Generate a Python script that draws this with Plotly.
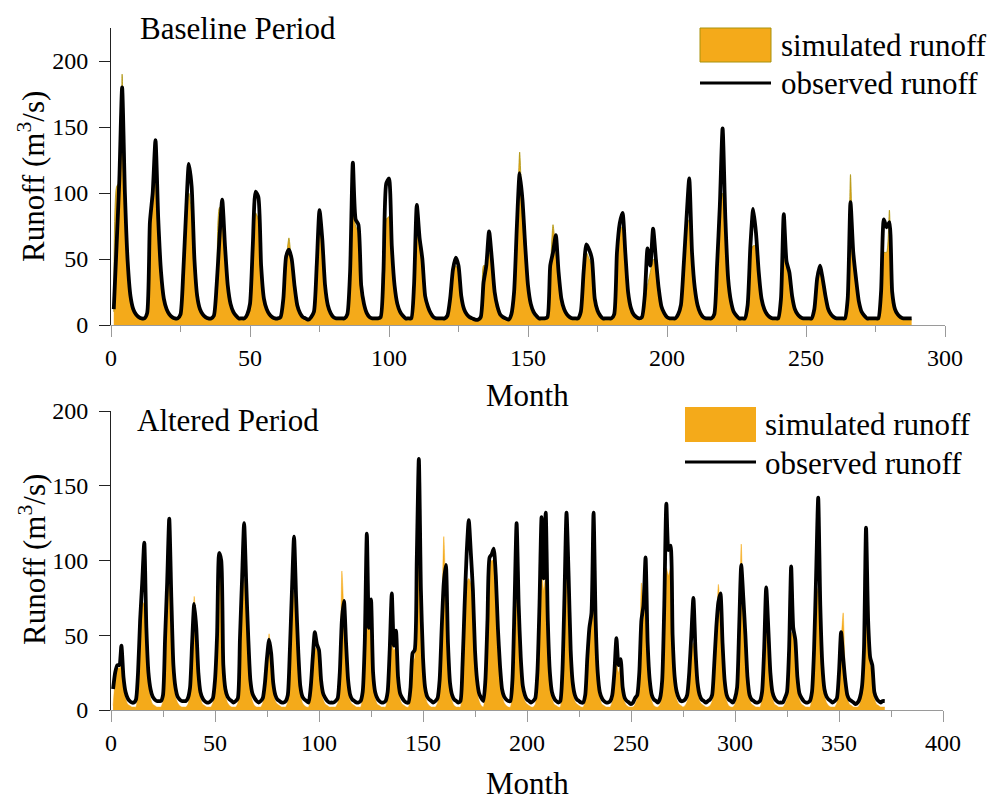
import plotly.graph_objects as go

# ---------------- data ----------------
# Baseline period, months 1..288 (one row per year)
obs_base = [
    12, 60, 110, 180, 100, 48, 22, 12, 8, 6, 5, 5,
    9, 78, 100, 140, 80, 40, 20, 12, 8, 6, 5, 5,
    8, 40, 85, 122, 105, 50, 22, 12, 8, 6, 5, 5,
    7, 30, 65, 95, 60, 30, 16, 10, 7, 5, 5, 5,
    8, 16, 60, 101, 97, 45, 20, 12, 8, 6, 5, 5,
    6, 20, 52, 57, 50, 30, 15, 9, 6, 5, 4, 6,
    10, 45, 87, 65, 30, 15, 9, 6, 5, 5, 5, 5,
    8, 40, 123, 80, 76, 30, 16, 9, 6, 5, 5, 5,
    6, 40, 107, 111, 60, 30, 16, 10, 7, 5, 5, 5,
    30, 91, 66, 50, 22, 14, 9, 6, 5, 5, 5, 5,
    7, 20, 42, 51, 45, 22, 12, 8, 6, 5, 4, 4,
    6, 32, 45, 71, 50, 25, 14, 8, 6, 5, 4, 8,
    25, 75, 115, 95, 60, 30, 16, 10, 7, 5, 5, 5,
    6, 45, 55, 68, 40, 20, 12, 8, 6, 5, 5, 5,
    10, 40, 61, 57, 50, 20, 11, 7, 5, 5, 5, 5,
    8, 55, 77, 85, 55, 25, 13, 8, 6, 5, 6, 22,
    58, 45, 73, 50, 28, 14, 9, 6, 5, 5, 5, 8,
    15, 45, 80, 111, 55, 28, 15, 9, 6, 5, 5, 5,
    8, 45, 90, 149, 80, 35, 18, 10, 7, 5, 5, 5,
    15, 60, 88, 70, 40, 20, 12, 8, 6, 5, 5, 5,
    20, 84, 48, 40, 22, 12, 8, 6, 5, 5, 5, 5,
    12, 35, 45, 35, 22, 12, 8, 6, 5, 5, 5, 5,
    20, 93, 55, 35, 18, 10, 7, 5, 5, 5, 5, 5,
    25, 80, 74, 78, 25, 12, 8, 6, 5, 5, 5, 5,
]
sim_base = [
    10, 105, 108, 190, 90, 42, 20, 11, 7, 5, 4, 4,
    8, 75, 105, 108, 75, 38, 18, 10, 7, 5, 4, 4,
    7, 38, 90, 100, 85, 45, 20, 11, 7, 5, 4, 4,
    6, 28, 89, 90, 55, 28, 15, 9, 6, 5, 4, 4,
    7, 15, 55, 85, 80, 40, 18, 10, 7, 5, 4, 4,
    5, 18, 48, 66, 46, 28, 14, 8, 5, 4, 4, 5,
    8, 42, 80, 58, 28, 14, 8, 5, 4, 4, 4, 4,
    7, 38, 88, 75, 70, 28, 14, 8, 5, 4, 4, 4,
    5, 35, 80, 82, 55, 28, 14, 9, 6, 4, 4, 4,
    25, 70, 60, 45, 20, 13, 8, 5, 4, 4, 4, 4,
    6, 18, 40, 45, 40, 20, 11, 7, 5, 4, 4, 4,
    5, 45, 45, 55, 45, 22, 12, 7, 5, 4, 4, 7,
    22, 70, 131, 80, 50, 26, 12, 7, 5, 4, 4, 4,
    5, 40, 76, 55, 35, 18, 10, 7, 5, 4, 4, 4,
    8, 35, 55, 50, 45, 18, 10, 6, 4, 4, 4, 4,
    7, 50, 70, 75, 50, 22, 12, 7, 5, 4, 5, 18,
    30, 40, 50, 45, 25, 12, 8, 5, 4, 4, 4, 8,
    12, 40, 75, 80, 50, 25, 13, 8, 5, 4, 4, 4,
    7, 40, 85, 100, 70, 30, 16, 9, 6, 4, 4, 4,
    12, 55, 60, 60, 35, 18, 10, 7, 5, 4, 4, 4,
    16, 55, 45, 35, 18, 10, 7, 5, 4, 4, 4, 4,
    10, 32, 40, 32, 20, 10, 7, 5, 4, 4, 4, 4,
    18, 114, 50, 32, 16, 9, 6, 5, 4, 4, 4, 4,
    22, 55, 55, 87, 22, 10, 7, 5, 4, 4, 4, 4,
]

# Altered period, months 1..372 (one row per year)
obs_alt = [
    14, 25, 30, 30, 43, 22, 12, 8, 6, 5, 5, 7,
    25, 60, 85, 112, 55, 25, 14, 9, 7, 6, 6, 6,
    10, 48, 85, 128, 75, 30, 15, 9, 7, 6, 6, 6,
    8, 15, 45, 71, 55, 25, 12, 8, 6, 5, 5, 6,
    8, 20, 50, 105, 100, 30, 14, 9, 7, 6, 5, 6,
    8, 48, 87, 125, 85, 48, 20, 11, 8, 6, 5, 6,
    8, 18, 35, 47, 38, 18, 10, 7, 6, 5, 5, 6,
    10, 40, 80, 116, 75, 40, 16, 9, 7, 6, 5, 15,
    35, 52, 44, 40, 20, 11, 8, 6, 5, 5, 5, 6,
    8, 25, 60, 73, 45, 20, 10, 7, 6, 5, 5, 6,
    12, 45, 118, 55, 74, 25, 12, 8, 6, 5, 5, 6,
    12, 40, 78, 43, 53, 22, 11, 8, 6, 5, 5, 15,
    38, 40, 100, 168, 80, 35, 15, 9, 7, 6, 5, 6,
    8, 20, 55, 85, 97, 45, 18, 10, 7, 6, 5, 6,
    30, 70, 105, 127, 105, 80, 40, 20, 11, 8, 6, 20,
    60, 102, 104, 108, 90, 55, 30, 14, 9, 7, 6, 6,
    20, 70, 125, 70, 35, 16, 10, 7, 6, 5, 6, 8,
    25, 70, 129, 88, 132, 60, 25, 12, 8, 6, 5, 6,
    25, 75, 132, 90, 40, 18, 10, 7, 6, 5, 5, 10,
    35, 55, 65, 132, 60, 25, 12, 8, 6, 5, 5, 6,
    10, 25, 48, 30, 34, 15, 8, 6, 5, 4, 5, 8,
    10, 25, 60, 70, 102, 45, 20, 10, 7, 6, 5, 8,
    20, 70, 138, 107, 110, 50, 22, 12, 8, 6, 6, 7,
    10, 25, 50, 75, 40, 18, 10, 7, 6, 5, 6, 7,
    10, 30, 55, 72, 78, 45, 20, 10, 7, 6, 5, 8,
    15, 55, 97, 75, 50, 22, 10, 7, 6, 5, 5, 6,
    12, 40, 82, 55, 25, 12, 8, 6, 5, 5, 5, 8,
    12, 40, 96, 55, 47, 22, 11, 8, 6, 5, 5, 6,
    12, 40, 90, 142, 70, 30, 14, 9, 7, 6, 5, 6,
    8, 25, 52, 35, 20, 10, 7, 6, 5, 4, 5, 8,
    15, 40, 122, 60, 35, 30, 12, 8, 6, 5, 6, 6,
]
sim_alt = [
    3, 20, 28, 28, 30, 18, 8, 4, 3, 2, 2, 2,
    18, 50, 70, 72, 45, 18, 8, 4, 3, 2, 2, 2,
    6, 40, 75, 88, 60, 22, 9, 5, 3, 2, 2, 2,
    4, 12, 40, 76, 50, 20, 8, 4, 3, 2, 2, 2,
    5, 15, 45, 105, 90, 25, 10, 5, 3, 2, 2, 2,
    5, 40, 75, 88, 70, 40, 15, 6, 3, 2, 2, 2,
    5, 15, 30, 51, 32, 14, 6, 4, 3, 2, 2, 2,
    6, 35, 70, 80, 60, 32, 12, 5, 3, 2, 2, 10,
    28, 42, 40, 38, 15, 7, 4, 3, 2, 2, 2, 2,
    5, 20, 93, 65, 40, 15, 6, 4, 3, 2, 2, 2,
    10, 40, 60, 55, 58, 20, 8, 4, 3, 2, 2, 2,
    10, 35, 45, 40, 42, 18, 7, 4, 3, 2, 2, 10,
    32, 35, 90, 125, 70, 28, 10, 5, 3, 2, 2, 2,
    5, 18, 60, 116, 75, 38, 13, 6, 3, 2, 2, 2,
    25, 60, 85, 88, 85, 65, 32, 14, 6, 3, 2, 15,
    50, 95, 100, 100, 80, 48, 24, 10, 5, 3, 2, 2,
    15, 60, 85, 60, 28, 12, 6, 4, 3, 2, 2, 4,
    20, 60, 95, 80, 90, 50, 20, 8, 4, 3, 2, 2,
    20, 65, 100, 75, 32, 14, 6, 4, 3, 2, 2, 6,
    30, 50, 60, 70, 50, 20, 8, 4, 3, 2, 2, 2,
    6, 20, 32, 25, 30, 12, 5, 3, 2, 2, 2, 4,
    8, 25, 85, 60, 72, 38, 15, 6, 3, 2, 2, 4,
    15, 60, 95, 90, 95, 42, 16, 7, 4, 3, 2, 3,
    6, 20, 40, 45, 32, 14, 6, 4, 3, 2, 2, 3,
    6, 25, 50, 84, 65, 38, 15, 6, 3, 2, 2, 4,
    10, 50, 111, 65, 42, 18, 7, 4, 3, 2, 2, 2,
    8, 35, 62, 48, 20, 8, 4, 3, 2, 2, 2, 4,
    8, 35, 52, 50, 42, 18, 7, 4, 3, 2, 2, 2,
    8, 35, 75, 82, 60, 25, 10, 5, 3, 2, 2, 2,
    5, 20, 45, 65, 25, 8, 4, 3, 2, 2, 2, 4,
    10, 35, 70, 72, 30, 25, 8, 4, 3, 2, 2, 2,
]

months_base = list(range(1, len(obs_base) + 1))
months_alt = list(range(1, len(obs_alt) + 1))

x_ticks_base = [0, 50, 100, 150, 200, 250, 300]
x_ticks_alt = [0, 50, 100, 150, 200, 250, 300, 350, 400]
y_ticks = [0, 50, 100, 150, 200]

panel_titles = ["Baseline Period", "Altered Period"]
legend_labels = ["simulated runoff", "observed runoff"]
x_title = "Month"
y_title = "Runoff (m<sup>3</sup>/s)"

# ---------------- style ----------------
W, H = 993, 800
FONT = "Liberation Serif"
FILL = "#F4AA1A"
EDGE = "#A8920C"


def px(x):
    return x / W


def py(y):
    return 1 - y / H


fig = go.Figure()

fig.add_trace(go.Scatter(x=months_base, y=sim_base, mode="lines", fill="tozeroy",
                         fillcolor=FILL, line=dict(color=EDGE, width=0.8, shape="spline", smoothing=0.6),
                         xaxis="x", yaxis="y", showlegend=False))
fig.add_trace(go.Scatter(x=months_base, y=obs_base, mode="lines",
                         line=dict(color="black", width=3.8, shape="spline", smoothing=0.6),
                         xaxis="x", yaxis="y", showlegend=False))
fig.add_trace(go.Scatter(x=months_alt, y=sim_alt, mode="lines", fill="tozeroy",
                         fillcolor=FILL, line=dict(color=FILL, width=0.5, shape="spline", smoothing=0.6),
                         xaxis="x2", yaxis="y2", showlegend=False))
fig.add_trace(go.Scatter(x=months_alt, y=obs_alt, mode="lines",
                         line=dict(color="black", width=3.8, shape="spline", smoothing=0.6),
                         xaxis="x2", yaxis="y2", showlegend=False))

tickfont = dict(family=FONT, size=24, color="black")
xcommon = dict(showgrid=False, zeroline=False, showline=True, linecolor="#9a9a9a",
               linewidth=1, ticks="outside", ticklen=11, tickcolor="#9a9a9a",
               tickwidth=1, tickfont=tickfont, ticklabelstandoff=0, automargin=False,
               minor=dict(ticks="outside", ticklen=6, tickcolor="#9a9a9a", dtick=25,
                          tick0=0, showgrid=False))
ycommon = dict(showgrid=False, zeroline=False, showline=True, linecolor="#222",
               linewidth=1, ticks="outside", ticklen=11, tickcolor="#222",
               tickwidth=1, tickfont=tickfont, tickvals=y_ticks, ticklabelstandoff=6,
               automargin=False)

fig.update_layout(
    width=W, height=H,
    margin=dict(l=0, r=0, t=0, b=0, autoexpand=False),
    paper_bgcolor="white", plot_bgcolor="white",
    showlegend=False,
    xaxis=dict(domain=[px(111), px(945)], range=[0, 300], tickvals=x_ticks_base,
               anchor="y", **xcommon),
    yaxis=dict(domain=[py(325), py(28)], range=[0, 225], anchor="x", **ycommon),
    xaxis2=dict(domain=[px(111), px(943)], range=[0, 400], tickvals=x_ticks_alt,
                anchor="y2", **xcommon),
    yaxis2=dict(domain=[py(710), py(411)], range=[0, 200], anchor="x2", **ycommon),
)

tfont = dict(family=FONT, size=31, color="black")
ann = []
ann.append(dict(text=panel_titles[0], x=px(138), y=py(28), xanchor="left", yanchor="middle"))
ann.append(dict(text=panel_titles[1], x=px(135), y=py(420), xanchor="left", yanchor="middle"))
ann.append(dict(text=x_title, x=px(527), y=py(395), xanchor="center", yanchor="middle"))
ann.append(dict(text=x_title, x=px(527), y=py(783), xanchor="center", yanchor="middle"))
ann.append(dict(text=y_title, x=px(32), y=py(177), xanchor="center", yanchor="middle", textangle=-90))
ann.append(dict(text=y_title, x=px(32), y=py(560), xanchor="center", yanchor="middle", textangle=-90))
# legends
ann.append(dict(text=legend_labels[0], x=px(779), y=py(45), xanchor="left", yanchor="middle"))
ann.append(dict(text=legend_labels[1], x=px(779), y=py(84), xanchor="left", yanchor="middle"))
ann.append(dict(text=legend_labels[0], x=px(763), y=py(424), xanchor="left", yanchor="middle"))
ann.append(dict(text=legend_labels[1], x=px(763), y=py(463), xanchor="left", yanchor="middle"))
for a in ann:
    a.update(xref="paper", yref="paper", showarrow=False, font=tfont)
fig.update_layout(annotations=ann)

shapes = [
    dict(type="rect", x0=px(700), x1=px(771), y0=py(62), y1=py(28), fillcolor=FILL,
         line=dict(color=EDGE, width=1)),
    dict(type="line", x0=px(700), x1=px(771), y0=py(83), y1=py(83),
         line=dict(color="black", width=3)),
    dict(type="rect", x0=px(685), x1=px(756), y0=py(442), y1=py(407), fillcolor=FILL,
         line=dict(width=0)),
    dict(type="line", x0=px(685), x1=px(756), y0=py(462), y1=py(462),
         line=dict(color="black", width=3)),
]
for s in shapes:
    s.update(xref="paper", yref="paper")
fig.update_layout(shapes=shapes)

fig.write_html("out.html")
